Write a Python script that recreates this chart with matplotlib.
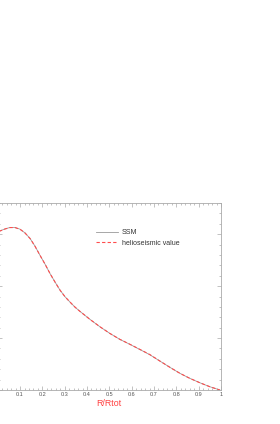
import matplotlib
matplotlib.use('Agg')
import matplotlib.pyplot as plt
from matplotlib.ticker import MultipleLocator, FuncFormatter

plt.rcParams['font.family'] = ['Liberation Sans', 'DejaVu Sans']

# radius fraction and profile (y in arbitrary units)
r = [0.0, 0.010, 0.033, 0.055, 0.077, 0.100, 0.122, 0.145, 0.167, 0.189,
     0.212, 0.234, 0.256, 0.279, 0.301, 0.324, 0.346, 0.368, 0.413, 0.458,
     0.502, 0.547, 0.592, 0.637, 0.681, 0.726, 0.771, 0.816, 0.860, 0.905,
     0.950, 0.995]
ssm = [3.04, 3.063, 3.102, 3.129, 3.129, 3.096, 3.025, 2.917, 2.769, 2.596,
       2.423, 2.244, 2.083, 1.923, 1.798, 1.692, 1.596, 1.515, 1.360, 1.217,
       1.090, 0.975, 0.879, 0.779, 0.679, 0.558, 0.437, 0.321, 0.225, 0.140,
       0.063, 0.0]
helio = [3.04, 3.060, 3.100, 3.127, 3.128, 3.095, 3.024, 2.916, 2.768, 2.596,
         2.423, 2.244, 2.083, 1.923, 1.798, 1.692, 1.596, 1.515, 1.360, 1.217,
         1.090, 0.975, 0.880, 0.781, 0.683, 0.558, 0.437, 0.321, 0.225, 0.140,
         0.063, 0.0]

fig = plt.figure(figsize=(2.8, 4.24), dpi=100)
ax = fig.add_axes([-0.0082, 0.0802, 0.7975, 0.441])

ax.plot(r, ssm, color='#999999', lw=0.6, label='SSM')
ax.plot(r, helio, color='#ff4d4d', lw=0.8, ls=(0, (3, 2)), label='helioseismic value')

ax.set_xlim(0, 1)
ax.set_ylim(0, 3.6)
ax.xaxis.set_major_locator(MultipleLocator(0.1))
ax.xaxis.set_minor_locator(MultipleLocator(0.02))
ax.yaxis.set_major_locator(MultipleLocator(1))
ax.yaxis.set_minor_locator(MultipleLocator(0.2))
# the left part of the figure (y labels, the "0") is cropped away in the reference
ax.xaxis.set_major_formatter(FuncFormatter(lambda v, p: '' if v < 0.05 else '%g' % round(v, 1)))

for s in ax.spines.values():
    s.set_color('#aaaaaa')
    s.set_linewidth(0.6)
ax.tick_params(which='both', direction='in', top=True, right=True,
               color='#aaaaaa', width=0.5)
ax.tick_params(which='major', length=3, labelsize=4, pad=1.5, labelcolor='#555555')
ax.tick_params(which='minor', length=1.5)
ax.tick_params(axis='y', labelleft=False)

ax.set_xlabel('R/Rtot', color='#ff4040', fontsize=6.4, labelpad=1.2)

ax.legend(loc='upper left', bbox_to_anchor=(0.439, 0.86), frameon=False,
          fontsize=5, handlelength=3.2, handletextpad=0.6, labelspacing=0.53,
          borderpad=0, borderaxespad=0, labelcolor='#333333')

fig.savefig('out.png', dpi=100)
